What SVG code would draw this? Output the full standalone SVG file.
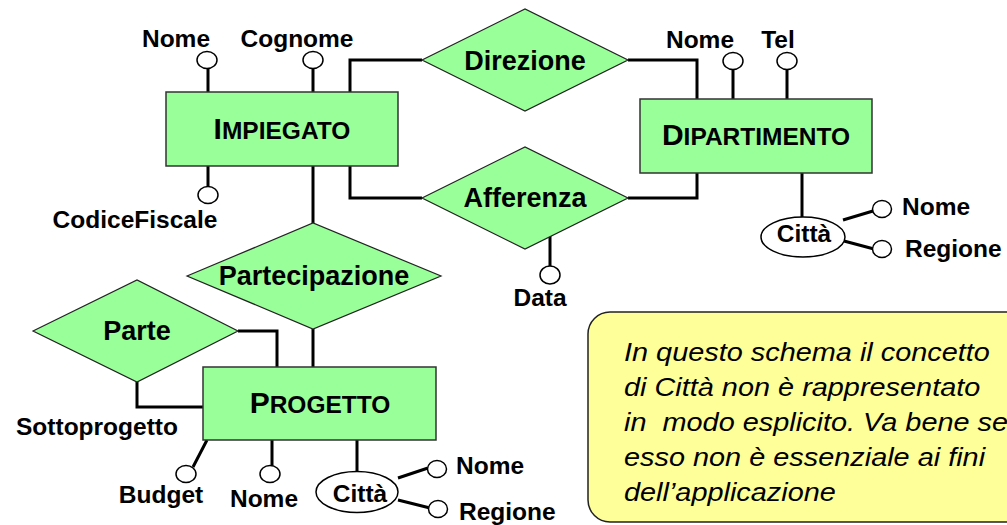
<svg xmlns="http://www.w3.org/2000/svg" width="1007" height="525" viewBox="0 0 1007 525">
<style>
.ent{fill:#99ff99;stroke:#333;stroke-width:1.5}
.rel{fill:#99ff99;stroke:#222;stroke-width:1.2}
.attr{fill:#fff;stroke:#000;stroke-width:1.5}
.cl{fill:none;stroke:#000;stroke-width:3}
.lbl{font-family:"Liberation Sans",Arial,sans-serif;font-weight:bold;font-size:24.5px;fill:#000}
.rt{font-family:"Liberation Sans",Arial,sans-serif;font-weight:bold;font-size:27px;fill:#000;text-anchor:middle}
.et{font-family:"Liberation Sans",Arial,sans-serif;font-weight:bold;font-size:24.5px;fill:#000;text-anchor:middle}
.big{font-size:30px}
.note{font-family:"Liberation Sans",Arial,sans-serif;font-style:italic;font-size:26.5px;fill:#000}
.m{text-anchor:middle}
</style>
<rect width="1007" height="525" fill="#fff"/>
<g id="connectors">
<path class="cl" d="M350,92 V60 H422"/>
<path class="cl" d="M628,60 H697 V99"/>
<path class="cl" d="M350,166 V198 H422"/>
<path class="cl" d="M628,198 H697 V173"/>
<path class="cl" d="M313,166 V223"/>
<path class="cl" d="M313,329 V367"/>
<path class="cl" d="M238,331 H277 V367"/>
<path class="cl" d="M137,382 V407 H203"/>
</g>
<g id="attr-links">
<path class="cl" d="M208,68 V92 M313,68 V92 M208,166 V187"/>
<path class="cl" d="M733,69 V99 M787,69 V99"/>
<path class="cl" d="M802,173 V217"/>
<path class="cl" d="M843,220 L873,211 M844,241 L874,249"/>
<path class="cl" d="M550,236 V266"/>
<path class="cl" d="M207,440 L193,467 M272,440 V466 M357,440 V472"/>
<path class="cl" d="M398,478 L428,468 M398,500 L430,508"/>
</g>
<g id="IMPIEGATO">
<rect class="ent" x="166" y="92" width="232" height="74"/>
<text class="et" x="282" y="139"><tspan class="big">I</tspan>MPIEGATO</text>
</g>
<g id="DIPARTIMENTO">
<rect class="ent" x="640" y="99" width="232" height="74"/>
<text class="et" x="756" y="145"><tspan class="big">D</tspan>IPARTIMENTO</text>
</g>
<g id="PROGETTO">
<rect class="ent" x="203" y="367" width="233" height="73"/>
<text class="et" x="320" y="413"><tspan class="big">P</tspan>ROGETTO</text>
</g>
<g id="Direzione">
<polygon class="rel" points="422,60 525,9 628,60 525,111"/>
<text class="rt" x="525" y="70">Direzione</text>
</g>
<g id="Afferenza">
<polygon class="rel" points="422,198 525,147 628,198 525,249"/>
<text class="rt" x="525" y="207">Afferenza</text>
</g>
<g id="Partecipazione">
<polygon class="rel" points="187,276 313,223 441,276 313,329"/>
<text class="rt" x="314" y="285">Partecipazione</text>
</g>
<g id="Parte">
<polygon class="rel" points="33,331 137,280 238,331 137,382"/>
<text class="rt" x="137" y="340">Parte</text>
</g>
<g id="attr-impiegato">
<ellipse class="attr" cx="207" cy="60" rx="10" ry="8.5"/>
<ellipse class="attr" cx="313" cy="60" rx="10" ry="8.5"/>
<ellipse class="attr" cx="208" cy="195" rx="10" ry="8.5"/>
<text class="lbl m" x="176" y="47">Nome</text>
<text class="lbl m" x="297" y="47">Cognome</text>
<text class="lbl m" x="135" y="228">CodiceFiscale</text>
</g>
<g id="attr-dipartimento">
<ellipse class="attr" cx="733" cy="61" rx="10" ry="8.5"/>
<ellipse class="attr" cx="787" cy="61" rx="10" ry="8.5"/>
<text class="lbl m" x="700" y="48">Nome</text>
<text class="lbl m" x="778" y="48">Tel</text>
<ellipse class="attr" cx="803" cy="237" rx="42" ry="20"/>
<text class="lbl m" x="804" y="242">Città</text>
<ellipse class="attr" cx="882" cy="209" rx="9.5" ry="8.5"/>
<ellipse class="attr" cx="882" cy="249" rx="9.5" ry="8.5"/>
<text class="lbl" x="902" y="215">Nome</text>
<text class="lbl" x="905" y="257">Regione</text>
</g>
<g id="attr-afferenza">
<ellipse class="attr" cx="550" cy="275" rx="10" ry="9"/>
<text class="lbl m" x="540" y="306">Data</text>
</g>
<g id="attr-parte">
<text class="lbl m" x="97" y="435">Sottoprogetto</text>
</g>
<g id="attr-progetto">
<ellipse class="attr" cx="186" cy="474" rx="10" ry="8.5"/>
<ellipse class="attr" cx="270" cy="474" rx="10" ry="8.5"/>
<text class="lbl m" x="161" y="503">Budget</text>
<text class="lbl m" x="264" y="507">Nome</text>
<ellipse class="attr" cx="357" cy="492" rx="41" ry="20.5"/>
<text class="lbl m" x="360" y="502">Città</text>
<ellipse class="attr" cx="437" cy="469" rx="9.5" ry="8.5"/>
<ellipse class="attr" cx="438" cy="509" rx="9.5" ry="8.5"/>
<text class="lbl" x="456" y="474">Nome</text>
<text class="lbl" x="459" y="520">Regione</text>
</g>
<g id="note">
<rect x="588" y="312" width="440" height="210" rx="22" ry="22" fill="#ffff99" stroke="#222" stroke-width="1.5"/>
<g transform="translate(624,0) scale(1.09,1)">
<text class="note" x="0" y="361">In questo schema il concetto</text>
<text class="note" x="0" y="396">di Città non è rappresentato</text>
<text class="note" x="0" y="431" xml:space="preserve">in  modo esplicito. Va bene se</text>
<text class="note" x="0" y="466">esso non è essenziale ai fini</text>
<text class="note" x="0" y="501">dell’applicazione</text>
</g>
</g>
</svg>
